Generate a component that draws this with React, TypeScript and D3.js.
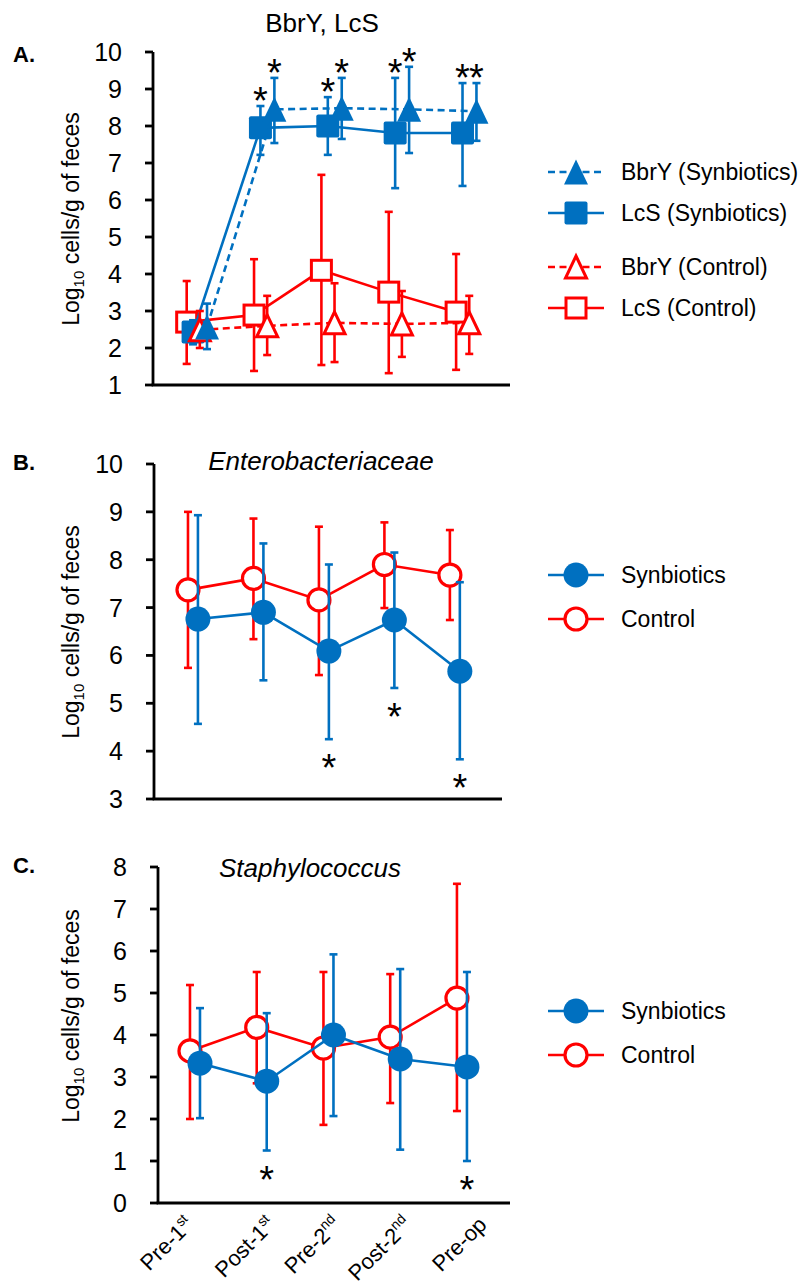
import React from 'react';
import * as d3 from 'd3';

// colours used in the original figure
const BLUE = '#0070C0';
const RED = '#FF0000';
const FONT = '"Liberation Sans", Arial, Helvetica, sans-serif';

// x categories (base text + superscript)
const stageNames = ['Pre-1', 'Post-1', 'Pre-2', 'Post-2', 'Pre-op'];
const stageSups = ['st', 'st', 'nd', 'nd', ''];
// the rotated labels were placed by hand in the original, so each has its own nudge (px)
const labelNudge = [0, 15, 14, 18, 26];

// A. BbrY, LcS  (log10 cells/g of feces, mean and error bar ends)
const bbrySynMean = [2.57, 8.45, 8.48, 8.45, 8.4];
const bbrySynUp = [3.2, 9.3, 9.3, 9.6, 9.16];
const bbrySynLo = [1.97, 7.54, 7.65, 7.27, 7.6];
const lcsSynMean = [2.43, 7.95, 8.0, 7.81, 7.81];
const lcsSynUp = [2.75, 8.54, 8.78, 9.3, 9.16];
const lcsSynLo = [2.1, 7.22, 7.22, 6.32, 6.38];
const bbryCtrlMean = [2.49, 2.6, 2.68, 2.65, 2.68];
const bbryCtrlUp = [3.0, 3.41, 3.75, 3.54, 3.41];
const bbryCtrlLo = [2.0, 1.81, 1.62, 1.76, 1.84];
const lcsCtrlMean = [2.7, 2.89, 4.1, 3.51, 2.97];
const lcsCtrlUp = [3.81, 4.4, 6.68, 5.68, 4.54];
const lcsCtrlLo = [1.57, 1.38, 1.54, 1.32, 1.41];
const sigA = [false, true, true, true, true];

// B. Enterobacteriaceae
const entSynMean = [6.76, 6.9, 6.09, 6.74, 5.67];
const entSynUp = [8.93, 8.34, 7.9, 8.15, 7.53];
const entSynLo = [4.57, 5.48, 4.25, 5.32, 3.83];
const entCtrlMean = [7.37, 7.61, 7.16, 7.9, 7.68];
const entCtrlUp = [9.0, 8.86, 8.69, 8.78, 8.62];
const entCtrlLo = [5.74, 6.34, 5.59, 6.99, 6.74];
const sigB = [false, false, true, true, true];

// C. Staphylococcus
const staSynMean = [3.33, 2.9, 4.0, 3.43, 3.24];
const staSynUp = [4.64, 4.52, 5.92, 5.57, 5.5];
const staSynLo = [2.02, 1.25, 2.07, 1.27, 1.0];
const staCtrlMean = [3.62, 4.18, 3.69, 3.95, 4.88];
const staCtrlUp = [5.19, 5.5, 5.5, 5.45, 7.6];
const staCtrlLo = [2.0, 2.85, 1.86, 2.38, 2.19];
const sigC = [false, true, false, false, true];

type Shape = 'square' | 'triangle' | 'circle';
type Series = {
  name: string;
  mean: number[];
  up: number[];
  lo: number[];
  color: string;
  shape: Shape;
  filled: boolean;
  dashed: boolean;
  shift: number; // offset in category units
  sig?: boolean[];
};

function Marker({ shape, filled, color, cx, cy }: { shape: Shape; filled: boolean; color: string; cx: number; cy: number }) {
  const fill = filled ? color : '#fff';
  if (shape === 'circle') {
    return filled
      ? <circle cx={cx} cy={cy} r={12.5} fill={fill} />
      : <circle cx={cx} cy={cy} r={11} fill={fill} stroke={color} strokeWidth={3.2} />;
  }
  if (shape === 'square') {
    const s = filled ? 23 : 20;
    return (
      <rect x={cx - s / 2} y={cy - s / 2} width={s} height={s} rx={filled ? 2 : 0}
        fill={fill} stroke={filled ? 'none' : color} strokeWidth={3} />
    );
  }
  const w = filled ? 24 : 21;
  const h = filled ? 25 : 22;
  return (
    <path d={`M${cx},${cy - h / 2}L${cx + w / 2},${cy + h / 2}L${cx - w / 2},${cy + h / 2}Z`}
      fill={fill} stroke={filled ? 'none' : color} strokeWidth={3} />
  );
}

type PanelCfg = {
  label: string;
  labelY: number;
  title: string;
  titleX: number;
  titleY: number;
  italic: boolean;
  yDomain: [number, number];
  top: number;
  bottom: number;
  xDomain: [number, number];
  left: number;
  right: number;
  yTitleMid: number;
  series: Series[];
  sigBelow: boolean;
  legendY: number[];
  legendOrder: number[];
  showX: boolean;
};

function Panel({ cfg }: { cfg: PanelCfg }) {
  const x = d3.scaleLinear().domain(cfg.xDomain).range([cfg.left, cfg.right]);
  const y = d3.scaleLinear().domain(cfg.yDomain).range([cfg.bottom, cfg.top]);
  const ticks = d3.range(cfg.yDomain[0], cfg.yDomain[1] + 1);
  const idx = d3.range(stageNames.length);

  return (
    <g>
      <text x={13} y={cfg.labelY} fontSize={22} fontWeight="bold">{cfg.label}</text>
      <text x={cfg.titleX} y={cfg.titleY} fontSize={26} textAnchor="middle"
        fontStyle={cfg.italic ? 'italic' : 'normal'}>{cfg.title}</text>

      {/* y title */}
      <text transform={`translate(79,${cfg.yTitleMid}) rotate(-90)`} fontSize={23} textAnchor="middle">
        <tspan>Log</tspan>
        <tspan fontSize={15} dy={5}>10</tspan>
        <tspan dy={-5}> cells/g of feces</tspan>
      </text>

      {/* series */}
      {cfg.series.map((s) => {
        const px = (i: number) => x(i + s.shift);
        const line = d3.line<number>().x((_, i) => px(i)).y((d) => y(d));
        return (
          <g key={s.name}>
            <path d={line(s.mean) || ''} fill="none" stroke={s.color} strokeWidth={2.6}
              strokeDasharray={s.dashed ? '7,4.5' : undefined} />
            {idx.map((i) => (
              <g key={i} stroke={s.color} strokeWidth={2.6}>
                <line x1={px(i)} x2={px(i)} y1={y(s.lo[i])} y2={y(s.up[i])} />
                <line x1={px(i) - 4} x2={px(i) + 4} y1={y(s.lo[i])} y2={y(s.lo[i])} />
                <line x1={px(i) - 4} x2={px(i) + 4} y1={y(s.up[i])} y2={y(s.up[i])} />
              </g>
            ))}
            {idx.map((i) => (
              <Marker key={i} shape={s.shape} filled={s.filled} color={s.color} cx={px(i)} cy={y(s.mean[i])} />
            ))}
          </g>
        );
      })}

      {/* significance marks */}
      {cfg.series.filter((s) => s.sig).map((s) =>
        idx.filter((i) => s.sig![i]).map((i) => {
          const cy = cfg.sigBelow ? y(s.lo[i]) + 20 : y(s.up[i]) - 14;
          return (
            <text key={s.name + i} x={x(i + s.shift)} y={cy + 22} fontSize={38} textAnchor="middle">*</text>
          );
        })
      )}

      {/* axes */}
      <g stroke="#000" strokeWidth={2.8}>
        <line x1={cfg.left} x2={cfg.left} y1={cfg.top} y2={cfg.bottom} />
        <line x1={cfg.left - 1.4} x2={cfg.right} y1={cfg.bottom} y2={cfg.bottom} />
        {ticks.map((t) => (
          <line key={t} x1={cfg.left - 8} x2={cfg.left} y1={y(t)} y2={y(t)} />
        ))}
      </g>
      {ticks.map((t) => (
        <text key={t} x={cfg.left - 31} y={y(t) + 9} fontSize={25} textAnchor="end">{t}</text>
      ))}

      {cfg.showX && idx.map((i) => (
        <text key={i} transform={`translate(${x(i) + labelNudge[i]},${cfg.bottom + 23}) rotate(-45)`}
          fontSize={22} textAnchor="end">
          {stageNames[i]}
          {stageSups[i] && <tspan fontSize={14} dy={-9}>{stageSups[i]}</tspan>}
        </text>
      ))}

      {/* legend */}
      {cfg.legendOrder.map((k, r) => {
        const s = cfg.series[k];
        const ly = cfg.legendY[r];
        return (
          <g key={s.name}>
            <line x1={548} x2={604} y1={ly} y2={ly} stroke={s.color} strokeWidth={2.6}
              strokeDasharray={s.dashed ? '7,4.5' : undefined} />
            <Marker shape={s.shape} filled={s.filled} color={s.color} cx={576} cy={ly} />
            <text x={621} y={ly + 8.3} fontSize={23}>{s.name}</text>
          </g>
        );
      })}
    </g>
  );
}

export default function App() {
  const panelA: PanelCfg = {
    label: 'A.', labelY: 62, title: 'BbrY, LcS', titleX: 322, titleY: 32, italic: false,
    yDomain: [1, 10], top: 52, bottom: 385, xDomain: [-0.65, 4.65], left: 153, right: 510,
    yTitleMid: 219,
    series: [
      { name: 'LcS (Control)', mean: lcsCtrlMean, up: lcsCtrlUp, lo: lcsCtrlLo, color: RED, shape: 'square', filled: false, dashed: false, shift: -0.15 },
      { name: 'LcS (Synbiotics)', mean: lcsSynMean, up: lcsSynUp, lo: lcsSynLo, color: BLUE, shape: 'square', filled: true, dashed: false, shift: -0.055, sig: sigA },
      { name: 'BbrY (Control)', mean: bbryCtrlMean, up: bbryCtrlUp, lo: bbryCtrlLo, color: RED, shape: 'triangle', filled: false, dashed: true, shift: 0.045 },
      { name: 'BbrY (Synbiotics)', mean: bbrySynMean, up: bbrySynUp, lo: bbrySynLo, color: BLUE, shape: 'triangle', filled: true, dashed: true, shift: 0.152, sig: sigA },
    ],
    sigBelow: false,
    legendY: [172, 213, 267, 308],
    legendOrder: [3, 1, 2, 0],
    showX: false,
  };
  const panelB: PanelCfg = {
    label: 'B.', labelY: 470, title: 'Enterobacteriaceae', titleX: 321, titleY: 470, italic: true,
    yDomain: [3, 10], top: 464, bottom: 799, xDomain: [-0.595, 4.72], left: 154, right: 502,
    yTitleMid: 632,
    series: [
      { name: 'Control', mean: entCtrlMean, up: entCtrlUp, lo: entCtrlLo, color: RED, shape: 'circle', filled: false, dashed: false, shift: -0.076 },
      { name: 'Synbiotics', mean: entSynMean, up: entSynUp, lo: entSynLo, color: BLUE, shape: 'circle', filled: true, dashed: false, shift: 0.076, sig: sigB },
    ],
    sigBelow: true,
    legendY: [575, 619],
    legendOrder: [1, 0],
    showX: false,
  };
  const panelC: PanelCfg = {
    label: 'C.', labelY: 873, title: 'Staphylococcus', titleX: 310, titleY: 877, italic: true,
    yDomain: [0, 8], top: 867, bottom: 1203, xDomain: [-0.554, 4.72], left: 158, right: 510,
    yTitleMid: 1016,
    series: [
      { name: 'Control', mean: staCtrlMean, up: staCtrlUp, lo: staCtrlLo, color: RED, shape: 'circle', filled: false, dashed: false, shift: -0.075 },
      { name: 'Synbiotics', mean: staSynMean, up: staSynUp, lo: staSynLo, color: BLUE, shape: 'circle', filled: true, dashed: false, shift: 0.075, sig: sigC },
    ],
    sigBelow: true,
    legendY: [1011, 1055],
    legendOrder: [1, 0],
    showX: true,
  };

  return (
    <svg width={803} height={1288} fontFamily={FONT}
      style={{ position: 'absolute', left: 0, top: 0, background: '#fff' }}>
      <Panel cfg={panelA} />
      <Panel cfg={panelB} />
      <Panel cfg={panelC} />
    </svg>
  );
}
